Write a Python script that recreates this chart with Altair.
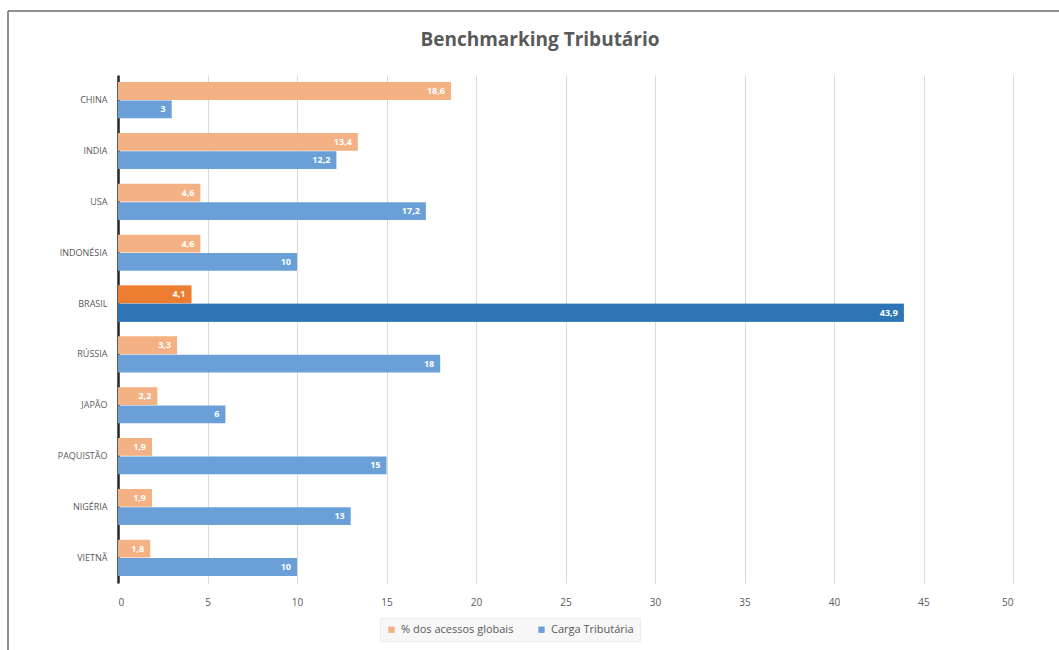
import altair as alt
import pandas as pd

chart_title = "Benchmarking Tributário"
countries = ["CHINA", "INDIA", "USA", "INDONÉSIA", "BRASIL", "RÚSSIA", "JAPÃO", "PAQUISTÃO", "NIGÉRIA", "VIETNÃ"]
acessos = [18.6, 13.4, 4.6, 4.6, 4.1, 3.3, 2.2, 1.9, 1.9, 1.8]
carga = [3, 12.2, 17.2, 10, 43.9, 18, 6, 15, 13, 10]
series_names = ["% dos acessos globais", "Carga Tributária"]
light_colors = ["#F4B183", "#6A9FD8"]
highlight_colors = ["#ED7D31", "#2E75B6"]
highlight_country = "BRASIL"
x_ticks = [0, 5, 10, 15, 20, 25, 30, 35, 40, 45, 50]

rows = []
for i, c in enumerate(countries):
    for s, vals, hc in [(series_names[0], acessos, highlight_colors[0]), (series_names[1], carga, highlight_colors[1])]:
        v = vals[i]
        rows.append({
            "country": c,
            "series": s,
            "value": v,
            "label": f"{v:g}".replace(".", ","),
            "hl": hc,
        })
df = pd.DataFrame(rows)

FONT = "Open Sans"

base = alt.Chart(df).encode(
    y=alt.Y("country:N", sort=countries, title=None,
            scale=alt.Scale(paddingInner=0.29, paddingOuter=0.14),
            axis=alt.Axis(labelFontSize=9, labelColor="#595959", labelFont=FONT,
                          labelPadding=11, ticks=False, domain=True,
                          domainColor="#262626", domainWidth=2.5, grid=False)),
    yOffset=alt.YOffset("series:N", sort=series_names, scale=alt.Scale(paddingInner=0.03)),
)

xenc = alt.X("value:Q", title=None,
             scale=alt.Scale(domain=[0, 50], nice=False),
             axis=alt.Axis(values=x_ticks, labelFontSize=10, labelColor="#595959",
                           labelFont=FONT, labelPadding=14, ticks=False, domain=False,
                           grid=True, gridColor="#D9D9D9", gridWidth=1))

bars = base.mark_bar(stroke=None).encode(
    x=xenc,
    color=alt.Color("series:N", sort=series_names,
                    scale=alt.Scale(domain=series_names, range=light_colors),
                    legend=alt.Legend(title=None, orient="none", direction="horizontal",
                                      legendX=262, legendY=543,
                                      symbolType="square", symbolSize=40,
                                      symbolStrokeWidth=0,
                                      labelFontSize=11, labelColor="#595959", labelFont=FONT,
                                      columnPadding=22, padding=6,
                                      fillColor="#F7F7F7", strokeColor="#EDEDED")),
)

hl_bars = base.mark_bar(stroke=None).encode(
    x="value:Q",
    fill=alt.Fill("hl:N", scale=None),
).transform_filter(alt.datum.country == highlight_country)

labels = base.mark_text(align="right", baseline="middle", dx=-6, color="white",
                        fontWeight="bold", fontSize=9, font=FONT).encode(
    x="value:Q",
    text="label:N",
)

single = pd.DataFrame({"a": [0]})
title_mark = alt.Chart(single).mark_text(
    fontSize=19, font=FONT, fontWeight="bold", color="#595959",
    align="center", baseline="middle").encode(
    x=alt.value(422), y=alt.value(-35), text=alt.value(chart_title))

border_left = alt.Chart(single).mark_rule(color="#6b6b6b", strokeWidth=1.5).encode(
    x=alt.value(-110), x2=alt.value(-110), y=alt.value(-64), y2=alt.value(600))
border_top = alt.Chart(single).mark_rule(color="#6b6b6b", strokeWidth=1.5).encode(
    x=alt.value(-110), x2=alt.value(960), y=alt.value(-64), y2=alt.value(-64))

chart = alt.layer(bars, hl_bars, labels, title_mark, border_left, border_top).properties(
    width=895, height=508,
    autosize=alt.AutoSizeParams(type="none"),
    padding={"left": 118, "top": 75, "right": 46, "bottom": 67},
    background="white",
).configure_view(stroke=None)

chart.save("out.html", embed_options={"renderer": "svg", "actions": False})
